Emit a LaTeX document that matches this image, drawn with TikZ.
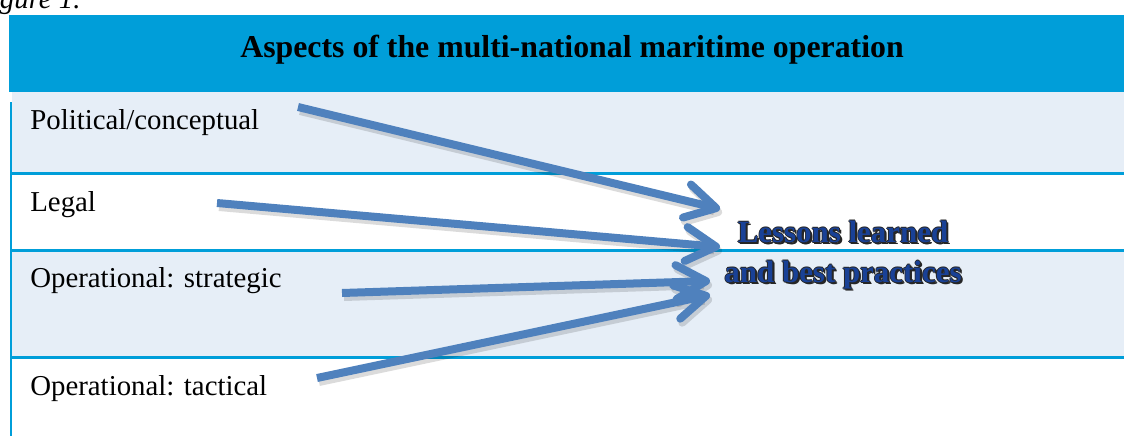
\documentclass[tikz,border=0pt]{standalone}
\usepackage{fontspec}
\setmainfont{Liberation Serif}
\usetikzlibrary{arrows.meta}
\definecolor{headblue}{RGB}{0,158,217}
\definecolor{rowblue}{RGB}{230,238,247}
\definecolor{arrowblue}{RGB}{79,129,189}
\definecolor{lessonblue}{RGB}{25,65,150}
\tikzset{
  rowlabel/.style={anchor=base west,inner sep=0pt,font=\fontsize{16.4}{20}\selectfont},
  rowrule/.style={draw=headblue,line width=0.06cm},
  lessontext/.style={inner sep=0pt,align=center,font=\bfseries\fontsize{17.6}{22.7}\selectfont},
  bigarrow/.style={arrowblue,line width=0.16cm,-{Straight Barb[length=0.6cm,width=0.68cm,round]}},
  arrowshadow/.style={bigarrow,draw=black,opacity=0.14}
}

\begin{document}
\begin{tikzpicture}[x=0.02cm,y=-0.02cm]
  \useasboundingbox (0,0) rectangle (1124,436);

  \node[rowlabel,font=\itshape\fontsize{16.4}{20}\selectfont] (caption) at (-26,9) {Figure 1.};

  % table
  \fill[headblue] (9,15) rectangle (1124,92);
  \fill[rowblue] (12,92) rectangle (1124,173);
  \fill[rowblue] (12,250) rectangle (1124,357);
  \draw[rowrule] (11,173) -- (1124,173);
  \draw[rowrule] (11,250) -- (1124,250);
  \draw[rowrule] (11,357) -- (1124,357);
  \draw[headblue,line width=0.05cm] (11,102) -- (11,436);

  \node[anchor=base,inner sep=0pt,font=\bfseries\fontsize{18.1}{22}\selectfont] (head) at (572,57)
    {Aspects of the multi-national maritime operation};

  \node[rowlabel] (political) at (30,129) {Political/conceptual};
  \node[rowlabel] (legal) at (30,211) {Legal};
  \node[rowlabel] (strategic) at (30,287) {Operational: strategic};
  \node[rowlabel] (tactical) at (30,395) {Operational: tactical};

  % outcome text, dark rim first
  \foreach \dx/\dy in {-0.9/0,0.9/0,0/-0.9,0/0.9,1.6/1.6,2.2/2.2}
    \node[lessontext,text=black!85] at (843+\dx,255+\dy) {Lessons learned\\and best practices};
  \node[lessontext,text=lessonblue] (lessons) at (843,255) {Lessons learned\\and best practices};

  % arrows
  \coordinate (s1) at (298,107);
  \coordinate (s2) at (217,203);
  \coordinate (s3) at (342,293);
  \coordinate (s4) at (317,378);
  \coordinate (t1) at (720,209);
  \coordinate (t2) at (720,247);
  \coordinate (t3) at (710,281);
  \coordinate (t4) at (710,295);

  \foreach \s/\t in {s1/t1,s2/t2,s3/t3,s4/t4}
    \draw[arrowshadow] ([shift={(2,4)}]\s) -- ([shift={(2,4)}]\t);
  \foreach \s/\t in {s1/t1,s2/t2,s3/t3,s4/t4}
    \draw[bigarrow] (\s) -- (\t);
\end{tikzpicture}
\end{document}
